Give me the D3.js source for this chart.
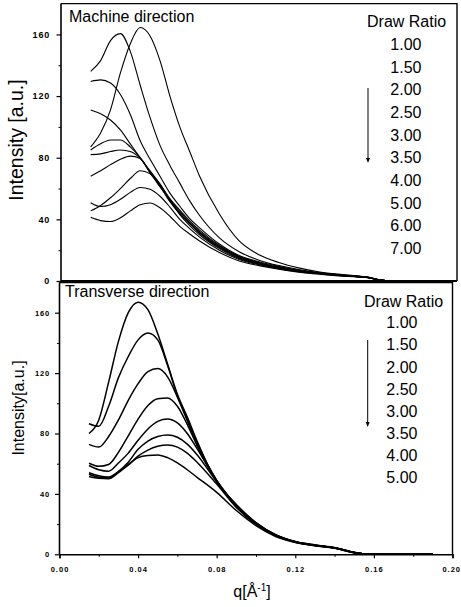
<!DOCTYPE html>
<html><head><meta charset="utf-8">
<script src="https://cdn.jsdelivr.net/npm/d3@7"></script>
<style>body{margin:0;background:#fff} svg{display:block} text{font-family:"Liberation Sans",Arial,sans-serif;fill:#000}</style>
</head><body><svg id="c" width="461" height="607"></svg>
<script>
// q grid (Å^-1) shared by all curves
const qGrid = [0.015,0.02,0.025,0.03,0.035,0.04,0.045,0.05,0.055,0.06,0.065,0.07,0.08,0.09,0.10,0.11,0.12,0.13,0.14,0.15,0.155,0.16,0.165,0.19];

// Machine direction curves
const md100 = [87,96,111,135,154,164.5,159,143,120,100,84,68,43.5,26, 17,12,8.5,6,4.5,3.3,2.6,1,0.2,0];
const md150 = [136,143,156,160.5,149,127,106,88,75,63.5,52,42.5,28,19, 13.5,10,7.5,5.5,4.2,3.1,2.5,1,0.2,0];
const md200 = [129.5,130.5,128.5,121,108,91,79,68,57,48.5,40.5,34.5,24,16.5, 12.5,9.5,7,5.3,4,3,2.4,0.9,0.2,0];
const md250 = [111,108.5,104.5,98,89,80,71.5,63,53.5,46,39,33,23,16, 12,9,6.8,5.2,3.9,2.9,2.4,0.9,0.2,0];
const md300 = [85,89,91.5,91.5,87,80,71,62.5,52.5,45,38,32,22.5,15.5, 11.5,8.8,6.5,5,3.8,2.9,2.3,0.9,0.2,0];
const md350 = [82,82.5,84,85,84,79.5,70.5,62,52,44,37.5,31.5,22,15.5, 11.5,8.7,6.4,5,3.8,2.8,2.3,0.9,0.2,0];
const md400 = [68,71.5,75.5,79,81,79.5,70,61.5,51.5,43.5,37,31,21.5,15, 11,8.5,6.3,4.9,3.7,2.8,2.3,0.9,0.2,0];
const md500 = [45.5,49,54,60,66.5,71.5,69.5,61,53,43,36,30,21,14.5, 11,8.4,6.2,4.8,3.6,2.7,2.2,0.9,0.2,0];
const md600 = [50.8,48.3,49.5,53,57.5,60.7,59.5,55,48,40,34,28.5,20,14, 10.5,8,6,4.7,3.5,2.7,2.2,0.9,0.2,0];
const md700 = [41.3,39.2,38.6,41,45.5,49.5,50.6,47.5,42,35.5,30.5,26,18.5,13, 10,7.6,5.7,4.5,3.4,2.6,2.1,0.8,0.2,0];

// Transverse direction curves
const td100 = [80,89,114,141,160,167,162,146,126,106,91,75,48,33, 21,13,8.5,6.2,4.5,1.3,0.2,0,0,0];
const td150 = [86.5,84.8,98,117,131,142,146.5,142,125,105,90,74,48.5,32.5, 20.8,12.9,8.4,6.1,4.4,1.3,0.2,0,0,0];
const td200 = [72.8,71,78,89,102,113,121,123,117.5,104,88.5,73,49,32.5, 20.6,12.8,8.3,6,4.3,1.2,0.2,0,0,0];
const td250 = [60.3,58.3,59.5,67.5,78.5,89.5,98.5,103,103.5,98,86,72,49,32.5, 20.5,12.7,8.3,6,4.3,1.2,0.2,0,0,0];
const td300 = [58.8,56,55,60.5,67,75.5,83,88,89.6,87,80,70,48.5,32, 20.3,12.6,8.2,5.9,4.2,1.2,0.2,0,0,0];
const td350 = [54,52,51.2,55,61,69.5,75,78,79,77.5,73,66,48,31.5, 20,12.4,8.1,5.9,4.2,1.1,0.2,0,0,0];
const td400 = [53,51,50.5,54.5,59,65,69,71.5,72.4,71,67,61,46.5,31, 19.7,12.2,8,5.8,4.1,1.1,0.2,0,0,0];
const td500 = [51.5,50.3,50,54,59.5,64,65.5,65.8,64,60.5,56,51,41,29, 19,11.8,7.8,5.7,4,1,0.2,0,0,0];

const mdLegend = ["1.00","1.50","2.00","2.50","3.00","3.50","4.00","5.00","6.00","7.00"];
const tdLegend = ["1.00","1.50","2.00","2.50","3.00","3.50","4.00","5.00"];
const yTicks = [0,40,80,120,160];
const yMinor = [20,60,100,140];
const xTicks = [0,0.04,0.08,0.12,0.16,0.20];
const xMinor = [0.02,0.06,0.10,0.14,0.18];

const svg = d3.select("#c");

const panels = [
  {title:"Machine direction", tx:69, ty:22, ylab:"Intensity [a.u.]", ylabSize:19.5, ylx:16, yly:140,
   xr:[61,457], yr:[281,3.6], series:[md100,md150,md200,md250,md300,md350,md400,md500,md600,md700],
   legend:mdLegend, lgX:367, lgY:27, valX:421.5, val0:50, valStep:22.67, arrow:[368,88,163], sw:1.1, showX:false, tickFont:9},
  {title:"Transverse direction", tx:65, ty:297, ylab:"Intensity[a.u.]", ylabSize:16, ylx:18, yly:408,
   xr:[59.5,452.5], yr:[554.3,282.5], series:[td100,td150,td200,td250,td300,td350,td400,td500],
   legend:tdLegend, lgX:364, lgY:306.5, valX:417.5, val0:328.3, valStep:22.14, arrow:[367.7,340,427], sw:1.5, showX:true, tickFont:7.5}
];

panels.forEach(p => {
  const x = d3.scaleLinear().domain([0,0.2]).range(p.xr);
  const y = d3.scaleLinear().domain([0,180]).range(p.yr);
  const g = svg.append("g");

  // frame (top and right)
  g.append("path").attr("d", `M${p.xr[0]},${p.yr[1]}H${p.xr[1]}V${p.yr[0]}`)
    .attr("fill","none").attr("stroke","#000").attr("stroke-width",1.4);

  // y axis
  const ya = g.append("g").attr("transform",`translate(${p.xr[0]},0)`)
    .call(d3.axisLeft(y).tickValues(yTicks).tickSize(4.5).tickPadding(p.showX?5:6.5).tickFormat(d3.format("d")));
  ya.select(".domain").attr("d", `M0,${p.yr[0]}V${p.yr[1]}`).attr("stroke-width",1.6);
  ya.selectAll("text").attr("font-size",p.tickFont).attr("font-weight","bold").style("letter-spacing","0.8px");
  ya.selectAll("line").attr("stroke-width",1.2);
  const ym = g.append("g").attr("transform",`translate(${p.xr[0]},0)`)
    .call(d3.axisLeft(y).tickValues(yMinor).tickSize(2.5).tickFormat(""));
  ym.select(".domain").remove();

  // x axis
  if (p.showX) {
    const xa = g.append("g").attr("transform",`translate(0,${p.yr[0]})`)
      .call(d3.axisBottom(x).tickValues(xTicks).tickSize(4).tickPadding(8).tickFormat(d3.format(".2f")));
    xa.select(".domain").attr("stroke-width",1.6);
    xa.selectAll("text").attr("font-size",7.5).attr("font-weight","bold").style("letter-spacing","1px");
    xa.selectAll(".tick").filter(d => d === 0.20).select("text").attr("text-anchor","end").attr("x",8);
    xa.selectAll("line").attr("stroke-width",1.2);
    const xm = g.append("g").attr("transform",`translate(0,${p.yr[0]})`)
      .call(d3.axisBottom(x).tickValues(xMinor).tickSize(2.5).tickFormat(""));
    xm.select(".domain").remove();
  } else {
    g.append("line").attr("x1",p.xr[0]).attr("x2",p.xr[1]).attr("y1",p.yr[0]).attr("y2",p.yr[0])
      .attr("stroke","#000").attr("stroke-width",1.8);
  }

  // curves
  const line = d3.line().x((d,i)=>x(qGrid[i])).y(d=>y(d)).curve(d3.curveMonotoneX);
  g.selectAll("path.curve").data(p.series).join("path").attr("class","curve")
    .attr("d", line).attr("fill","none").attr("stroke","#000").attr("stroke-width",p.sw);

  // titles and labels
  g.append("text").attr("x",p.tx).attr("y",p.ty).attr("font-size",16).text(p.title);
  g.append("text").attr("transform",`translate(${p.ylx},${p.yly}) rotate(-90)`)
    .attr("text-anchor","middle").attr("dy","0.35em").attr("font-size",p.ylabSize).text(p.ylab);

  // legend
  g.append("text").attr("x",p.lgX).attr("y",p.lgY).attr("font-size",16).text("Draw Ratio");
  g.selectAll("text.val").data(p.legend).join("text").attr("class","val")
    .attr("x",p.valX).attr("y",(d,i)=>p.val0+i*p.valStep).attr("text-anchor","end")
    .attr("font-size",16).text(d=>d);

  // arrow
  const [ax, ay0, ay1] = p.arrow;
  g.append("line").attr("x1",ax).attr("x2",ax).attr("y1",ay0).attr("y2",ay1-4)
    .attr("stroke","#000").attr("stroke-width",1);
  g.append("path").attr("d",`M${ax-2},${ay1-5}L${ax+2},${ay1-5}L${ax},${ay1}Z`).attr("fill","#000");
});

// x axis label
const xl = svg.append("text").attr("x",252).attr("y",597).attr("text-anchor","middle").attr("font-size",16);
xl.append("tspan").text("q[Å");
xl.append("tspan").attr("font-size",10).attr("dy",-6).text("-1");
xl.append("tspan").attr("dy",6).text("]");
</script></body></html>
